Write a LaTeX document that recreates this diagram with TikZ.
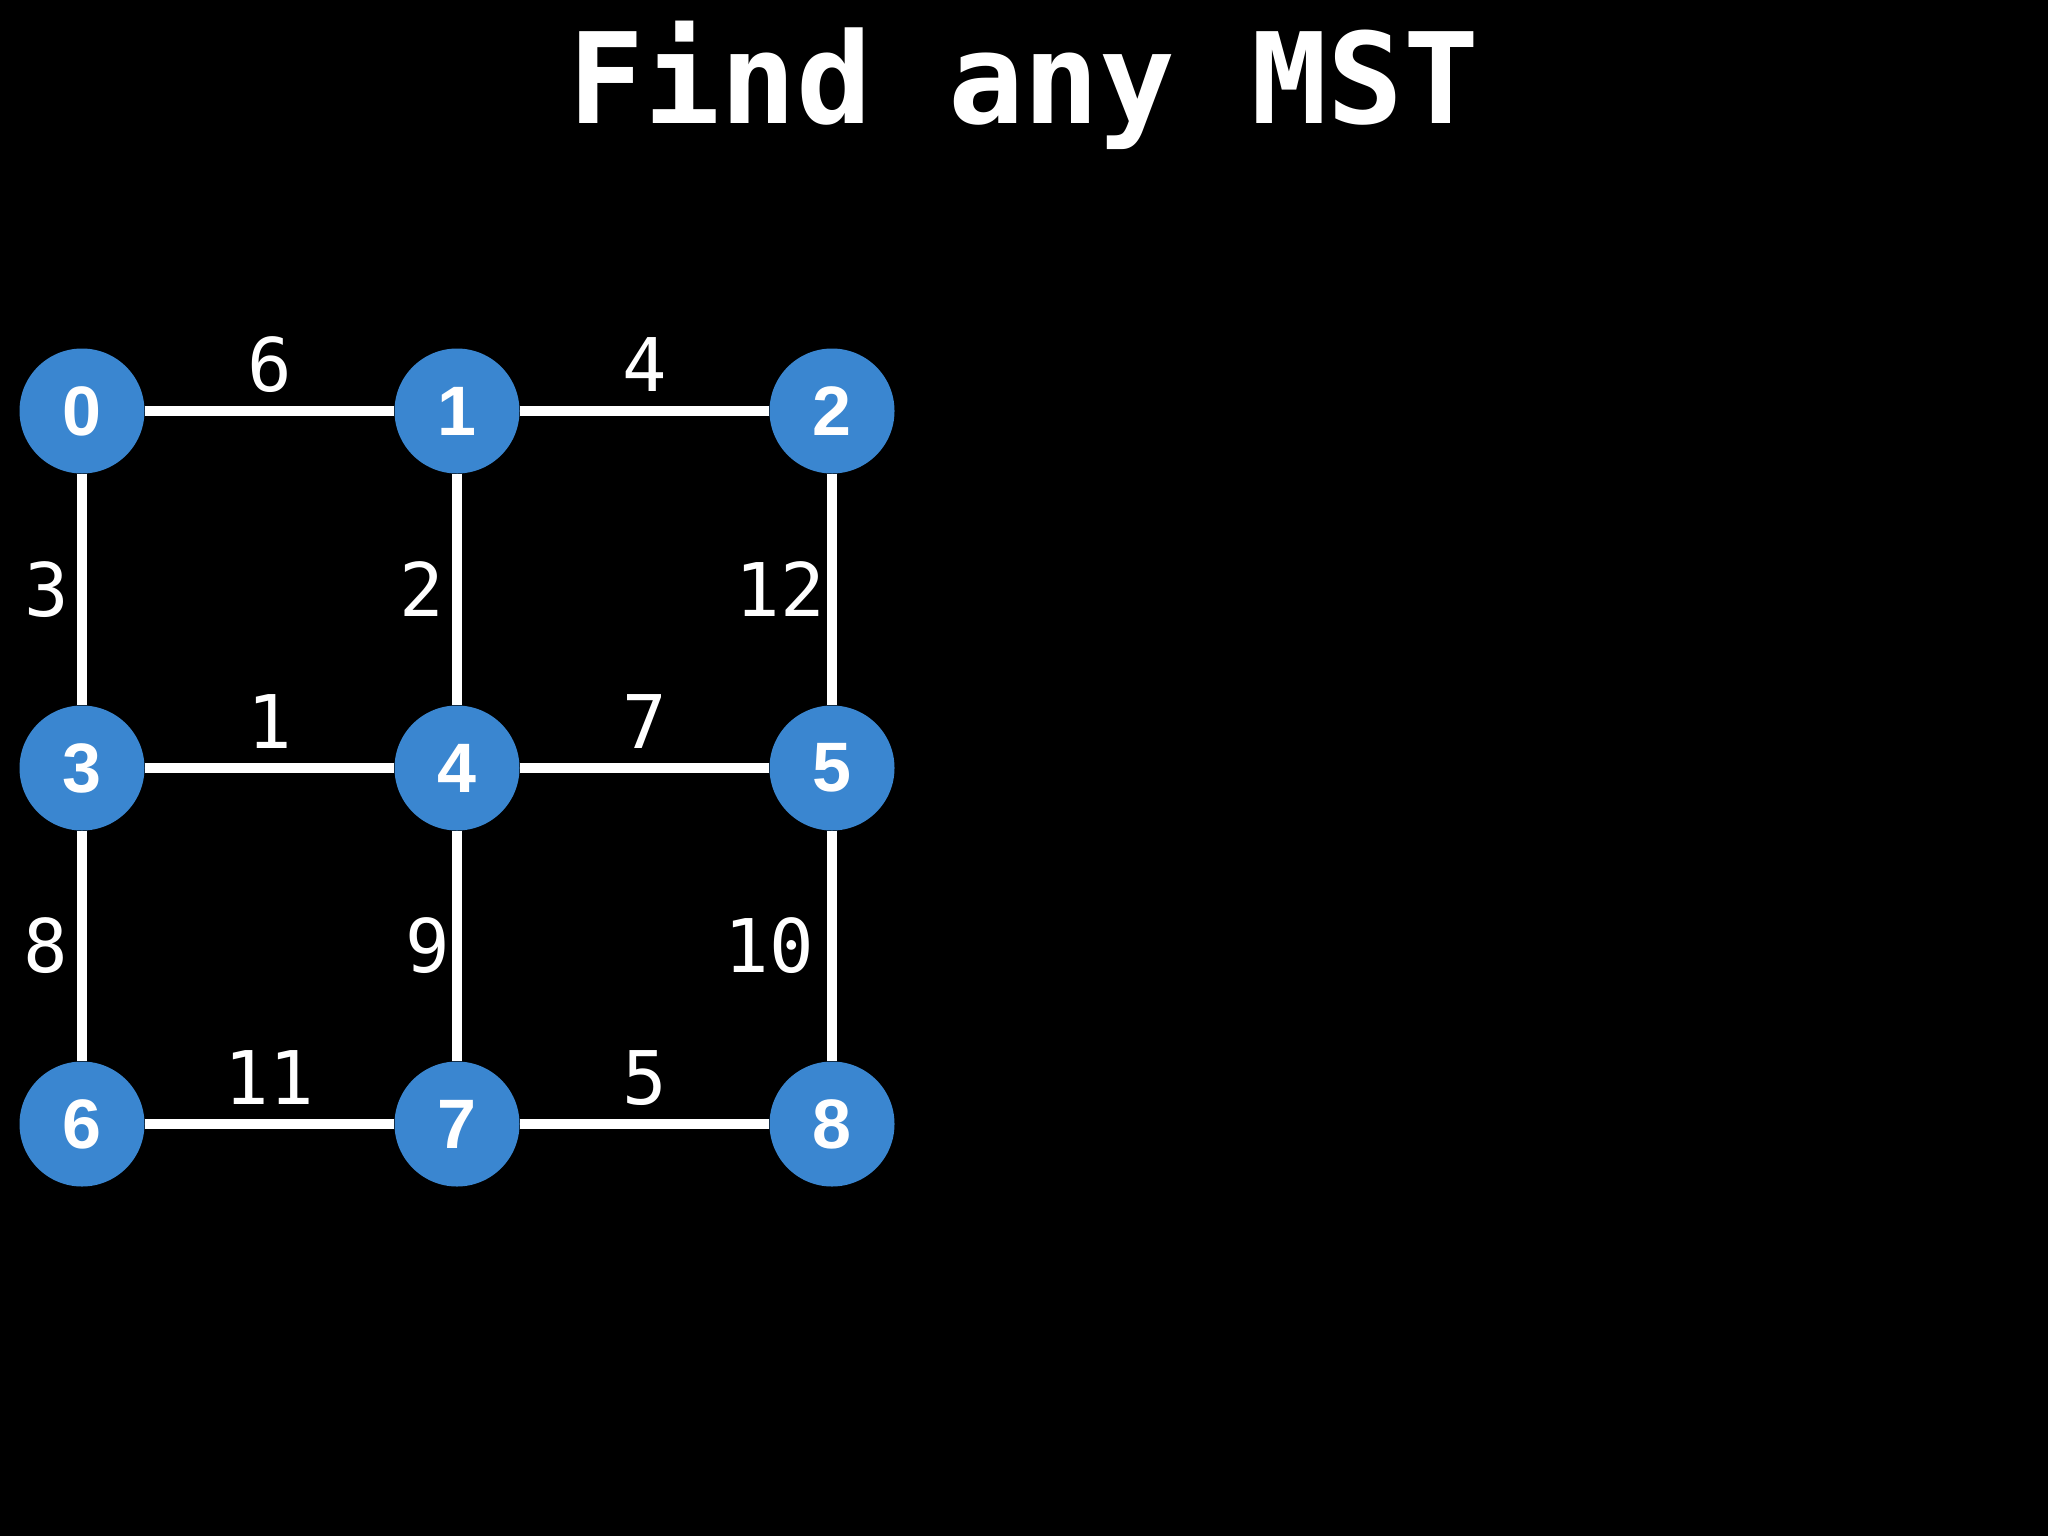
\documentclass[tikz,border=0pt]{standalone}
\usepackage{fontspec}
\newfontfamily\titlefont{DejaVu Sans Mono}
\newfontfamily\labfont{DejaVu Sans Mono}
\newfontfamily\vfont{Liberation Sans}
\definecolor{nodeblue}{RGB}{58,134,208}
\begin{document}
\begin{tikzpicture}[x=0.5pt,y=-0.5pt,
  vertex/.style={circle,fill=nodeblue,inner sep=0pt,minimum size=62.5pt,text=white,font=\vfont\bfseries\fontsize{35}{35}\selectfont},
  edge/.style={white,line width=5pt},
  wlab/.style={text=white,inner sep=0pt,font=\labfont\fontsize{37}{37}\selectfont},
  hl/.style={wlab,anchor=base,yshift=10pt},
  vl/.style={wlab,anchor=east,xshift=-#1},
  vl/.default=4pt]
\fill[black] (0,0) rectangle (2048,1536);
\useasboundingbox (0,0) rectangle (2048,1536);
\node[text=white,inner sep=0pt,anchor=base,font=\titlefont\bfseries\fontsize{63}{63}\selectfont] (title) at (1024,124) {Find any MST};
\node[vertex] (n0) at (82,411) {0};
\node[vertex] (n1) at (457,411) {1};
\node[vertex] (n2) at (832,411) {2};
\node[vertex] (n3) at (82,768) {3};
\node[vertex] (n4) at (457,768) {4};
\node[vertex] (n5) at (832,768) {5};
\node[vertex] (n6) at (82,1124) {6};
\node[vertex] (n7) at (457,1124) {7};
\node[vertex] (n8) at (832,1124) {8};
\draw[edge] (n0) -- node[hl] {6} (n1);
\draw[edge] (n1) -- node[hl] {4} (n2);
\draw[edge] (n3) -- node[hl] {1} (n4);
\draw[edge] (n4) -- node[hl] {7} (n5);
\draw[edge] (n6) -- node[hl] {11} (n7);
\draw[edge] (n7) -- node[hl] {5} (n8);
\draw[edge] (n0) -- node[vl=4pt] {3} (n3);
\draw[edge] (n1) -- node[vl=4pt] {2} (n4);
\draw[edge] (n2) -- node[vl=1pt] {12} (n5);
\draw[edge] (n3) -- node[vl=4.5pt] {8} (n6);
\draw[edge] (n4) -- node[vl=1pt] {9} (n7);
\draw[edge] (n5) -- node[vl=6.5pt] {10} (n8);
\end{tikzpicture}
\end{document}
